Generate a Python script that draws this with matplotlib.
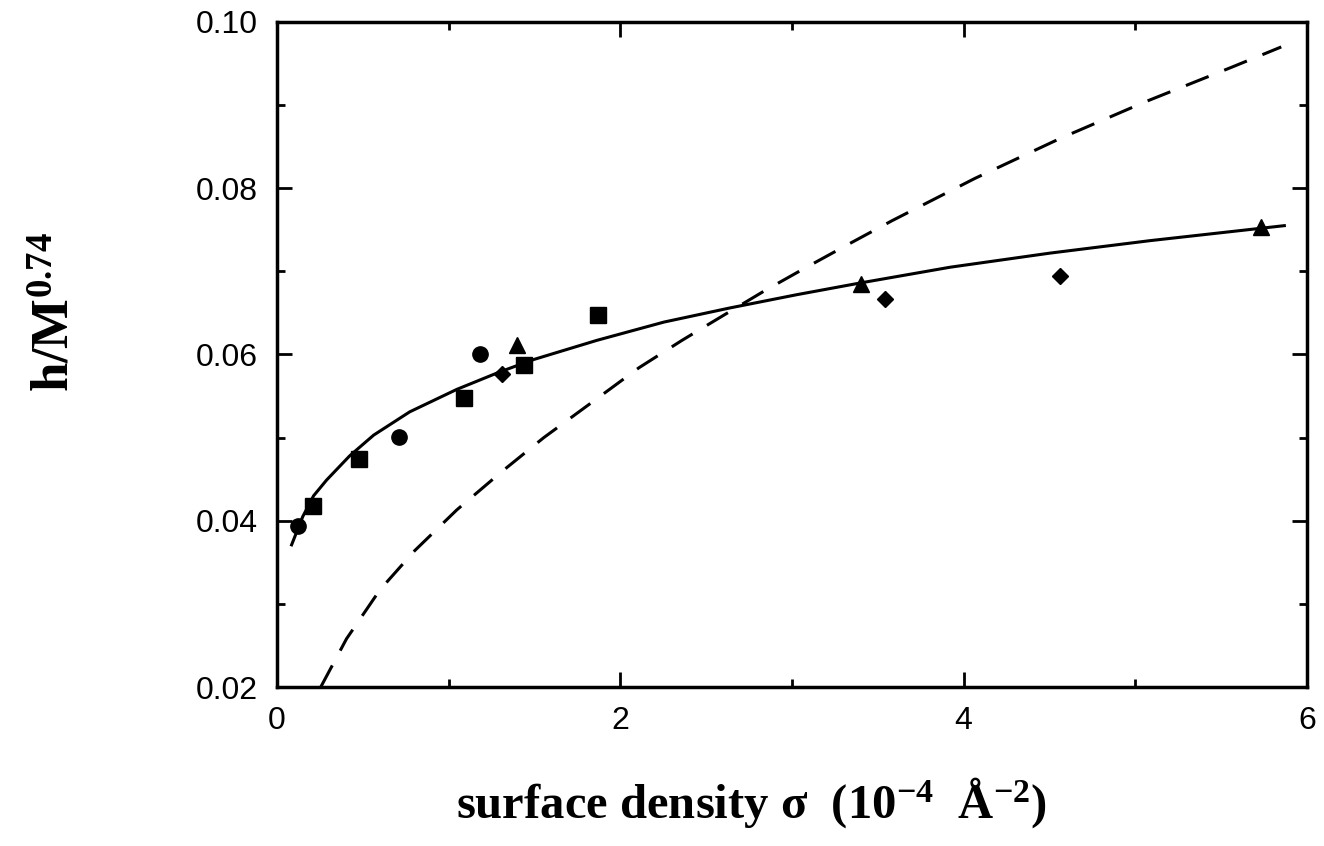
import matplotlib
matplotlib.use('Agg')
import matplotlib.pyplot as plt
from matplotlib.ticker import MultipleLocator, FixedLocator

# data
circle_x = [0.12, 0.71, 1.18]
circle_y = [0.0394, 0.0501, 0.0601]
square_x = [0.21, 0.475, 1.09, 1.44, 1.87]
square_y = [0.0418, 0.0474, 0.0548, 0.0587, 0.0647]
diamond_x = [1.31, 3.54, 4.56]
diamond_y = [0.0576, 0.0667, 0.0695]
triangle_x = [1.40, 3.40, 5.73]
triangle_y = [0.0612, 0.0685, 0.0753]

solid_x = [0.085, 0.15, 0.213, 0.289, 0.423, 0.563, 0.773, 1.047, 1.297, 1.496, 1.863,
           2.254, 2.638, 3.029, 3.396, 3.921, 4.504, 5.087, 5.868]
solid_y = [0.0371, 0.0405, 0.0430, 0.0449, 0.0478, 0.0503, 0.0531, 0.0558, 0.0579, 0.0594, 0.0617,
           0.0639, 0.0656, 0.0672, 0.0686, 0.0705, 0.0722, 0.0737, 0.0755]

dashed_x = [0.255, 0.405, 0.60, 0.802, 1.047, 1.309, 1.554, 1.904, 2.108, 2.359, 2.592,
            2.843, 3.076, 3.332, 3.583, 4.067, 4.563, 5.058, 5.566, 5.85]
dashed_y = [0.0200, 0.0258, 0.0317, 0.0364, 0.0413, 0.0459, 0.0500, 0.0553, 0.0584, 0.0617, 0.0646,
            0.0677, 0.0704, 0.0733, 0.0761, 0.0812, 0.0860, 0.0904, 0.0946, 0.0970]

x_ticks = [0, 2, 4, 6]
y_ticks = [0.02, 0.04, 0.06, 0.08, 0.10]

plt.rcParams['mathtext.fontset'] = 'custom'
plt.rcParams['mathtext.rm'] = 'Liberation Serif:bold'
plt.rcParams['mathtext.it'] = 'Liberation Serif:bold'
plt.rcParams['mathtext.bf'] = 'Liberation Serif:bold'

fig = plt.figure(figsize=(13.24, 8.46), dpi=100)
ax = fig.add_axes([277 / 1324, 1 - 687 / 846, 1030 / 1324, 665 / 846])

ax.plot(solid_x, solid_y, color='black', lw=2.2)
ax.plot(dashed_x, dashed_y, color='black', lw=2.2, dashes=(8, 5.5))

ax.plot(circle_x, circle_y, 'o', color='black', ms=11)
ax.plot(square_x, square_y, 's', color='black', ms=11)
ax.plot(diamond_x, diamond_y, 'D', color='black', ms=8)
ax.plot(triangle_x, triangle_y, '^', color='black', ms=11)

ax.set_xlim(0, 6)
ax.set_ylim(0.02, 0.10)
ax.xaxis.set_major_locator(FixedLocator(x_ticks))
ax.yaxis.set_major_locator(FixedLocator(y_ticks))
ax.xaxis.set_minor_locator(MultipleLocator(1))
ax.yaxis.set_minor_locator(MultipleLocator(0.01))
ax.set_xticklabels([str(t) for t in x_ticks])
ax.set_yticklabels(['%.2f' % t for t in y_ticks])

for s in ax.spines.values():
    s.set_linewidth(2.5)
ax.tick_params(which='both', direction='in', top=True, right=True, width=2)
ax.tick_params(which='major', length=11, labelsize=23, pad=14,
               labelfontfamily='Liberation Sans')
ax.tick_params(which='minor', length=6)
ax.tick_params(axis='y', which='major', pad=14)

fig.text(56 / 1324, 1 - 312 / 846, r'h/M$^{0.74}$', rotation=90, ha='center', va='center',
         fontsize=38, family='Liberation Serif', weight='bold')
fig.text(752 / 1324, 1 - 818 / 846, r'surface density $\sigma$  (10$^{-4}$  Å$^{-2}$)',
         ha='center', va='baseline', fontsize=35, family='Liberation Serif', weight='bold')

plt.savefig('out.png', dpi=100)
plt.close()
